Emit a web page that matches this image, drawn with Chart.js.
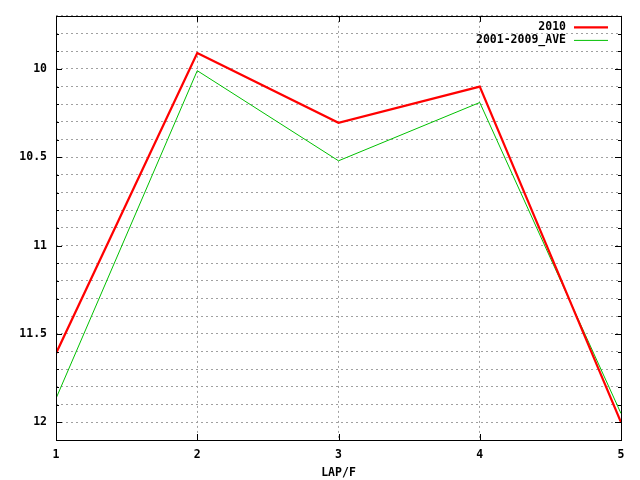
<!DOCTYPE html>
<html><head><meta charset="utf-8">
<script src="https://cdn.jsdelivr.net/npm/chart.js@4"></script>
<style>html,body{margin:0;padding:0;background:#fff}#c{display:block}</style>
</head><body>
<div style="width:640px;height:480px"><canvas id="c" width="640" height="480"></canvas></div>
<script>
const laps = [1, 2, 3, 4, 5];
const series2010 = [11.61, 9.91, 10.305, 10.10, 12.0];
const seriesAve = [11.865, 10.01, 10.52, 10.19, 11.95];
const seriesNames = ['2010', '2001-2009_AVE'];
const seriesColors = ['#ff0000', '#00c000'];
const xTitle = 'LAP/F';
const yMin = 9.7, yMax = 12.1;

const FONT = {family: '"DejaVu Sans Mono", "Liberation Mono", monospace', size: 11.5, weight: 'bold'};

const framePlugin = {
  id: 'frame',
  afterDatasetsDraw(chart) {
    const {ctx, chartArea: a, scales} = chart;
    ctx.save();
    ctx.strokeStyle = '#000';
    ctx.lineWidth = 1;
    const ys = scales.y, xs = scales.x;
    ys.ticks.forEach(t => {
      const v = Math.round(t.value * 10);
      const major = v % 5 === 0;
      const len = major ? 6 : 3;
      const py = Math.round(ys.getPixelForValue(t.value)) + 0.5;
      ctx.beginPath();
      ctx.moveTo(a.left, py); ctx.lineTo(a.left + len, py);
      ctx.moveTo(a.right, py); ctx.lineTo(a.right - len, py);
      ctx.stroke();
    });
    xs.ticks.forEach(t => {
      const px = Math.round(xs.getPixelForValue(t.value)) + 0.5;
      ctx.beginPath();
      ctx.moveTo(px, a.bottom); ctx.lineTo(px, a.bottom - 6);
      ctx.moveTo(px, a.top); ctx.lineTo(px, a.top + 6);
      ctx.stroke();
    });
    ctx.strokeRect(Math.round(a.left) + 0.5, Math.round(a.top) + 0.5, Math.round(a.right - a.left), Math.round(a.bottom - a.top));
    ctx.font = `${FONT.weight} ${FONT.size}px ${FONT.family}`;
    ctx.textAlign = 'right';
    ctx.textBaseline = 'middle';
    chart.data.datasets.forEach((ds, i) => {
      const y = a.top + 11 + i * 13;
      ctx.fillStyle = '#000';
      ctx.fillText(ds.label, a.right - 55, y);
      ctx.strokeStyle = ds.borderColor;
      ctx.lineWidth = ds.borderWidth;
      ctx.beginPath();
      ctx.moveTo(a.right - 47, y + 0.5); ctx.lineTo(a.right - 13, y + 0.5);
      ctx.stroke();
    });
    ctx.restore();
  }
};

const gridStyle = {color: '#a0a0a0', lineWidth: 1, drawTicks: false};

new Chart(document.getElementById('c'), {
  type: 'line',
  data: {
    datasets: [
      {label: seriesNames[0], data: laps.map((x, i) => ({x, y: series2010[i]})), borderColor: seriesColors[0], borderWidth: 2.2, pointRadius: 0, tension: 0, fill: false},
      {label: seriesNames[1], data: laps.map((x, i) => ({x, y: seriesAve[i]})), borderColor: seriesColors[1], borderWidth: 1, pointRadius: 0, tension: 0, fill: false}
    ]
  },
  options: {
    responsive: false,
    animation: false,
    devicePixelRatio: 1,
    layout: {padding: {left: 0, right: 19, top: 11, bottom: 0}},
    plugins: {legend: {display: false}, tooltip: {enabled: false}},
    scales: {
      x: {
        type: 'linear', min: 1, max: 5,
        ticks: {stepSize: 1, color: '#000', font: FONT, padding: 8, maxRotation: 0},
        grid: gridStyle,
        border: {display: false, dash: [2, 3]},
        title: {display: true, text: xTitle, color: '#000', font: FONT, padding: {top: 2, bottom: 0}},
        afterFit(s) { s.height = 40; }
      },
      y: {
        type: 'linear', reverse: true, min: yMin, max: yMax,
        ticks: {
          stepSize: 0.1, color: '#000', font: FONT, padding: 9, autoSkip: false,
          callback(v) { const t = Math.round(v * 10); return t % 5 === 0 ? String(t / 10) : ''; }
        },
        grid: gridStyle,
        border: {display: false, dash: [2, 3]},
        afterFit(s) { s.width = 56; }
      }
    }
  },
  plugins: [framePlugin]
});
</script>
</body></html>
